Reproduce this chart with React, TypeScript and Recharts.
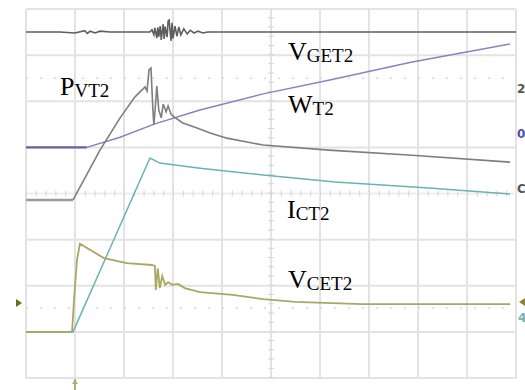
import React from 'react';
import { LineChart, Line, XAxis, YAxis, ReferenceLine } from 'recharts';

// scope screen: 10 x 8 divisions
const xDivs = [0, 1, 2, 3, 4, 5, 6, 7, 8, 9, 10];
const yDivs = [0, 1, 2, 3, 4, 5, 6, 7, 8];
const cursorLevels = [6.5, 1.52];

// top trace (noise pick-up)
const noiseX = [0, 0.69, 1.0, 1.2, 1.25, 1.31, 1.41, 1.51, 1.71, 2.53, 2.57, 2.61, 2.63, 2.67, 2.69, 2.71, 2.74, 2.76, 2.8, 2.82, 2.84, 2.88, 2.9, 2.92, 2.96, 2.98, 3.0, 3.04, 3.08, 3.12, 3.16, 3.22, 3.29, 3.35, 3.43, 3.51, 3.61, 3.71, 3.82, 4.37, 5.59, 7.63, 10];
const noiseY = [7.5, 7.5, 7.48, 7.53, 7.47, 7.52, 7.48, 7.52, 7.5, 7.5, 7.55, 7.44, 7.59, 7.37, 7.6, 7.4, 7.63, 7.33, 7.67, 7.35, 7.62, 7.39, 7.74, 7.76, 7.31, 7.7, 7.36, 7.63, 7.41, 7.61, 7.44, 7.57, 7.46, 7.54, 7.48, 7.52, 7.48, 7.5, 7.5, 7.5, 7.5, 7.5, 7.5];

// P_VT2
const pvtX = [0, 0.96, 1.27, 1.51, 1.92, 2.22, 2.43, 2.47, 2.51, 2.55, 2.59, 2.61, 2.65, 2.67, 2.71, 2.76, 2.8, 2.86, 2.9, 2.96, 3.02, 3.2, 3.49, 3.76, 4.1, 4.84, 6.18, 7.88, 9.88];
const pvtY = [3.86, 3.86, 4.47, 4.94, 5.64, 6.09, 6.31, 6.22, 6.68, 6.72, 5.81, 5.49, 6.03, 6.33, 5.81, 5.64, 5.94, 5.77, 5.9, 5.72, 5.66, 5.53, 5.42, 5.31, 5.2, 5.05, 4.94, 4.83, 4.68];

// V_GET2
const vgeX = [0, 1.24, 1.92, 2.63, 3.55, 4.84, 6.2, 7.88, 9.88];
const vgeY = [5.0, 5.0, 5.22, 5.51, 5.81, 6.16, 6.46, 6.85, 7.24];

// I_CT2
const icX = [0, 0.96, 2.53, 2.73, 3.55, 4.84, 6.31, 8.22, 9.88];
const icY = [1.0, 1.0, 4.77, 4.66, 4.55, 4.4, 4.25, 4.12, 3.99];

// V_CET2
const vceX = [0, 0.94, 0.98, 1.04, 1.1, 1.59, 2.06, 2.57, 2.63, 2.65, 2.69, 2.73, 2.78, 2.84, 2.9, 2.98, 3.1, 3.24, 3.55, 4.22, 4.84, 5.49, 6.86, 9.88];
const vceY = [1.0, 1.0, 1.69, 2.56, 2.91, 2.6, 2.49, 2.45, 2.43, 1.91, 2.38, 1.95, 2.21, 2.02, 2.08, 2.02, 2.04, 1.95, 1.86, 1.8, 1.71, 1.65, 1.6, 1.6];

const zip = (xs: number[], ys: number[]) => xs.map((x, i) => ({ x, y: ys[i] }));

const W = 525;
const H = 390;
const M = { top: 9, right: 9, bottom: 12, left: 26 };

const serif = '"Liberation Serif", "Times New Roman", serif';

function Label({ x, y, main, sub }: { x: number; y: number; main: string; sub: string }) {
  return (
    <text x={x} y={y} fontFamily={serif} fontSize={26} fill="#000">
      {main}
      <tspan fontSize={19} dy={2}>{sub}</tspan>
    </text>
  );
}

export default function App() {
  return (
    <div style={{ position: 'absolute', left: 0, top: 0, width: W, height: H, background: '#fff' }}>
      <LineChart width={W} height={H} margin={M}>
        <XAxis type="number" dataKey="x" domain={[0, 10]} hide allowDataOverflow />
        <YAxis type="number" dataKey="y" domain={[0, 8]} hide allowDataOverflow />
        {xDivs.map(v => (
          <ReferenceLine key={`vx-${v}`} x={v} stroke="#e3e3e3" strokeWidth={2} />
        ))}
        {yDivs.map(v => (
          <ReferenceLine key={`hy-${v}`} y={v} stroke={v === 4 ? '#eeeeee' : '#e3e3e3'} strokeWidth={2} />
        ))}
        <ReferenceLine x={5} stroke="#d4d4d4" strokeWidth={6} strokeDasharray="1 8.225" />
        <ReferenceLine y={4} stroke="#d4d4d4" strokeWidth={6} strokeDasharray="1 8.8" />
        {cursorLevels.map(v => (
          <ReferenceLine key={`c-${v}`} y={v} stroke="#d8d8d8" strokeWidth={1.5} strokeDasharray="2 12" />
        ))}
        <Line data={zip(noiseX, noiseY)} dataKey="y" type="linear" stroke="#5e5e5e" strokeWidth={1.6} dot={false} isAnimationActive={false} />
        <Line data={zip(vgeX.slice(0, 2), vgeY.slice(0, 2))} dataKey="y" type="linear" stroke="#6262a8" strokeWidth={2.2} dot={false} isAnimationActive={false} />
        <Line data={zip(vgeX.slice(1), vgeY.slice(1))} dataKey="y" type="linear" stroke="#8484c0" strokeWidth={1.5} dot={false} isAnimationActive={false} />
        <Line data={zip(pvtX.slice(0, 2), pvtY.slice(0, 2))} dataKey="y" type="linear" stroke="#9a9a9a" strokeWidth={2.6} dot={false} isAnimationActive={false} />
        <Line data={zip(pvtX.slice(1), pvtY.slice(1))} dataKey="y" type="linear" stroke="#7e7e7e" strokeWidth={1.6} dot={false} isAnimationActive={false} />
        <Line data={zip(icX, icY)} dataKey="y" type="linear" stroke="#6cb2b2" strokeWidth={1.5} dot={false} isAnimationActive={false} />
        <Line data={zip(vceX, vceY)} dataKey="y" type="linear" stroke="#a9a762" strokeWidth={1.8} dot={false} isAnimationActive={false} />
      </LineChart>
      <svg width={W} height={H} style={{ position: 'absolute', left: 0, top: 0, pointerEvents: 'none' }}>
        <Label x={60} y={95} main="P" sub="VT2" />
        <Label x={288} y={60} main="V" sub="GET2" />
        <Label x={288} y={113} main="W" sub="T2" />
        <Label x={287} y={218} main="I" sub="CT2" />
        <Label x={288} y={288} main="V" sub="CET2" />
        <text x={517} y={93} fontFamily="DejaVu Sans" fontSize={12} fontWeight="bold" fill="#555">2</text>
        <text x={517} y={138} fontFamily="DejaVu Sans" fontSize={12} fontWeight="bold" fill="#5050a8">0</text>
        <text x={517} y={193} fontFamily="DejaVu Sans" fontSize={12} fontWeight="bold" fill="#555">C</text>
        <text x={518} y={322} fontFamily="DejaVu Sans" fontSize={12} fontWeight="bold" fill="#7ab0b0">4</text>
        <polygon points="16,299 22,303 16,307" fill="#6e6a20" />
        <polygon points="525,298 519,302 525,306" fill="#8a8630" />
        <polygon points="72,384 75,379 78,384" fill="#b0ae70" />
        <line x1={75} y1={379} x2={75} y2={390} stroke="#b0ae70" strokeWidth={2} />
      </svg>
    </div>
  );
}
